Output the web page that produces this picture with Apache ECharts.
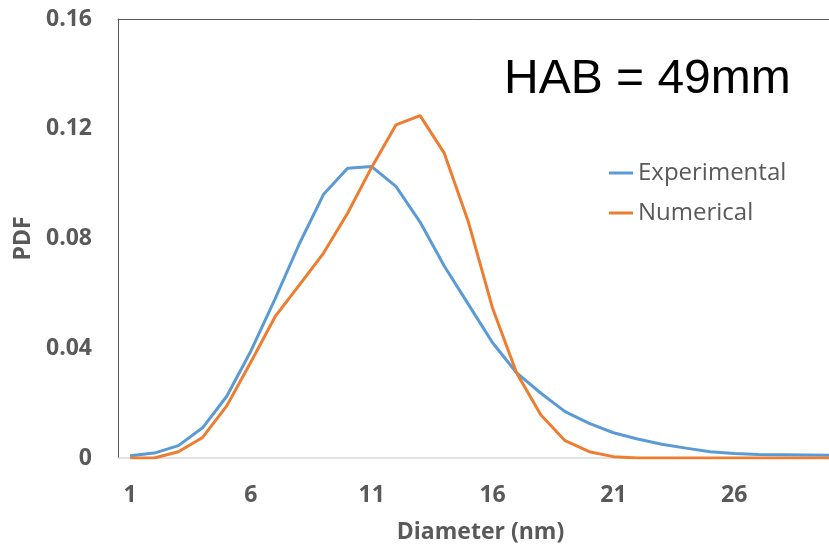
<!DOCTYPE html>
<html>
<head>
<meta charset="utf-8">
<script src="https://cdn.jsdelivr.net/npm/echarts@6/dist/echarts.min.js"></script>
<style>
html,body{margin:0;padding:0;background:#fff;}
#chart{width:829px;height:545px;}
</style>
</head>
<body>
<div id="chart"></div>
<script>
var categories = ['1','2','3','4','5','6','7','8','9','10','11','12','13','14','15','16','17','18','19','20','21','22','23','24','25','26','27','28','29','30'];
var experimental = [0.0008,0.0018,0.0045,0.011,0.0225,0.039,0.058,0.078,0.096,0.1056,0.1062,0.099,0.086,0.070,0.056,0.042,0.031,0.0236,0.0169,0.0126,0.0092,0.0069,0.005,0.0036,0.0023,0.0016,0.0013,0.0012,0.0011,0.001];
var numerical = [0,0,0.0023,0.0075,0.019,0.035,0.0515,0.063,0.0746,0.0892,0.106,0.1214,0.1248,0.1111,0.086,0.0546,0.0309,0.0157,0.0063,0.0023,0.0005,0,0,0,0,0,0,0,0,0];
var seriesNames = ['Experimental','Numerical'];
var yTicks = [0,0.04,0.08,0.12,0.16];

var chart = echarts.init(document.getElementById('chart'), null, {renderer:'canvas'});
var labelFont = 'Open Sans';
chart.setOption({
  animation:false,
  backgroundColor:'#ffffff',
  title:{
    text:'HAB = 49mm',
    left:499, top:51,
    textStyle:{fontFamily:'Liberation Sans',fontSize:48,fontWeight:'normal',color:'#000000'}
  },
  legend:{
    orient:'vertical',
    left:609, top:161,
    padding:0,
    itemWidth:24, itemHeight:3, itemGap:16,
    icon:'rect',
    data:seriesNames,
    textStyle:{fontFamily:labelFont,fontSize:24,color:'#595959',lineHeight:24}
  },
  grid:{left:118, top:19, width:725, bottom:87, containLabel:false, outerBoundsMode:'none'},
  xAxis:[{
    type:'category',
    data:categories,
    boundaryGap:true,
    name:'Diameter (nm)',
    nameLocation:'middle',
    nameGap:63,
    nameTextStyle:{fontFamily:labelFont,fontSize:23,fontWeight:'bold',color:'#595959'},
    axisLine:{show:true,lineStyle:{color:'#d9d9d9',width:1.5}},
    axisTick:{show:false},
    axisLabel:{interval:4,margin:26,fontFamily:labelFont,fontSize:23,fontWeight:'bold',color:'#595959'},
    splitLine:{show:false}
  },{
    type:'category',
    data:categories,
    position:'top',
    boundaryGap:true,
    axisLine:{show:true,lineStyle:{color:'#595959',width:1}},
    axisTick:{show:false},
    axisLabel:{show:false},
    splitLine:{show:false}
  }],
  yAxis:{
    type:'value',
    min:0, max:0.16, interval:0.04,
    name:'PDF',
    nameLocation:'middle',
    nameGap:83,
    nameRotate:90,
    nameTextStyle:{fontFamily:labelFont,fontSize:23,fontWeight:'bold',color:'#595959'},
    axisLine:{show:true,lineStyle:{color:'#595959',width:1}},
    axisTick:{show:false},
    splitLine:{show:false},
    axisLabel:{margin:26,fontFamily:labelFont,fontSize:23,fontWeight:'bold',color:'#595959',
      formatter:function(v){ return v===0 ? '0' : v.toFixed(2); }}
  },
  series:[{
    name:seriesNames[0], type:'line', data:experimental,
    symbol:'none', smooth:false,
    lineStyle:{color:'#5B9BD5',width:3},
    itemStyle:{color:'#5B9BD5'}
  },{
    name:seriesNames[1], type:'line', data:numerical,
    symbol:'none', smooth:false,
    lineStyle:{color:'#ED7D31',width:3},
    itemStyle:{color:'#ED7D31'}
  }]
});
</script>
</body>
</html>
